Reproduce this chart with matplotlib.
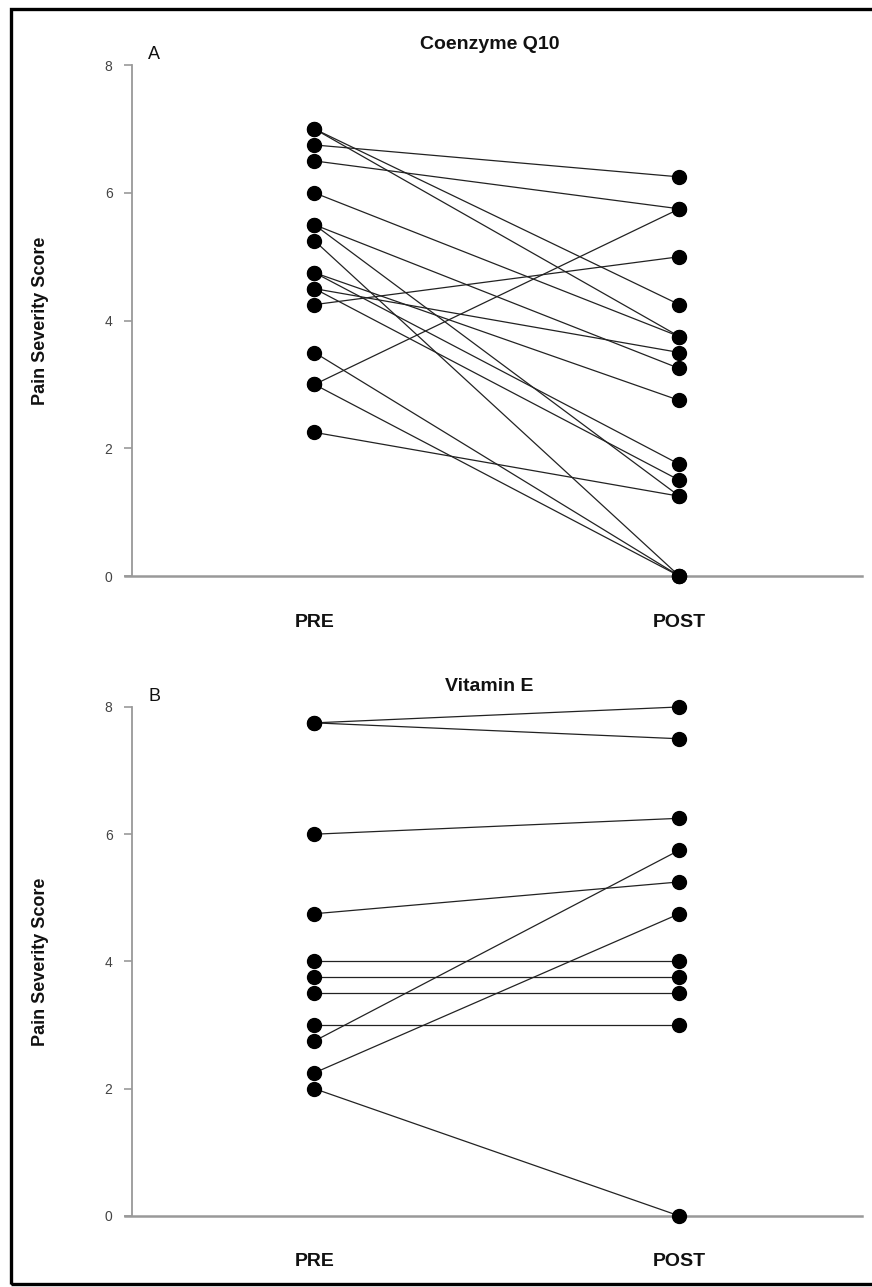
import matplotlib
matplotlib.use("Agg")
import matplotlib.pyplot as plt
from matplotlib.patches import Rectangle

plt.rcParams["font.family"] = ["Liberation Sans", "DejaVu Sans"]

# paired scores, one entry per subject (PRE -> POST)
coq10_pre = [7.0, 7.0, 6.75, 6.5, 6.0, 5.5, 5.5, 5.25, 4.75, 4.75, 4.5, 4.5,
             4.25, 3.5, 3.0, 3.0, 2.25]
coq10_post = [4.25, 3.75, 6.25, 5.75, 3.75, 3.25, 1.25, 0.0, 2.75, 1.75, 3.5, 1.5,
              5.0, 0.0, 5.75, 0.0, 1.25]

vite_pre = [7.75, 7.75, 6.0, 4.75, 4.0, 3.75, 3.5, 3.0, 2.75, 2.25, 2.0]
vite_post = [8.0, 7.5, 6.25, 5.25, 4.0, 3.75, 3.5, 3.0, 5.75, 4.75, 0.0]

groups = ["PRE", "POST"]
yticks = [0, 2, 4, 6, 8]
panels = [("A", "Coenzyme Q10", coq10_pre, coq10_post),
          ("B", "Vitamin E", vite_pre, vite_post)]

fig = plt.figure(figsize=(8.72, 12.87), dpi=100)
fig.patch.set_facecolor("white")

# outer frame (open on the right like the scanned figure)
fig.add_artist(Rectangle((11 / 872, 3 / 1287), 1.2, 1 - 12 / 1287,
                         transform=fig.transFigure, fill=False,
                         edgecolor="black", linewidth=2.4))

rects = [[0.1514, 0.5524, 0.837, 0.397], [0.1514, 0.0552, 0.837, 0.3955]]
for rect, (letter, title, pre, post) in zip(rects, panels):
    ax = fig.add_axes(rect)
    for a, b in zip(pre, post):
        ax.plot([1, 2], [a, b], "-", color="#222222", lw=0.9, zorder=2,
                clip_on=False)
    ax.plot([1] * len(pre), pre, "o", color="black", ms=10, zorder=3,
            clip_on=False)
    ax.plot([2] * len(post), post, "o", color="black", ms=10, zorder=3,
            clip_on=False)

    ax.set_xlim(0.5, 2.5)
    ax.set_ylim(0, 8)
    ax.set_yticks(yticks)
    ax.set_yticklabels([str(t) for t in yticks], fontsize=10, color="#444444")
    ax.set_xticks([1, 2])
    ax.set_xticklabels(groups, fontsize=14, fontweight="bold", color="#111111")
    ax.tick_params(axis="x", length=0, pad=27)
    ax.tick_params(axis="y", length=6, width=1.2, color="#999999", pad=8)
    for s in ("top", "right"):
        ax.spines[s].set_visible(False)
    ax.spines["left"].set_color("#999999")
    ax.spines["left"].set_linewidth(1.3)
    ax.spines["bottom"].set_color("#999999")
    ax.spines["bottom"].set_linewidth(1.8)
    ax.spines["bottom"].set_bounds(0.48, 2.5)

    ax.set_ylabel("Pain Severity Score", fontsize=13, fontweight="bold",
                  labelpad=40, color="#111111")
    ax.text(0.022, 1.02, letter, transform=ax.transAxes, fontsize=13,
            ha="left", va="center", color="#111111")
    ax.text(0.49, 1.04, title, transform=ax.transAxes, fontsize=14,
            fontweight="bold", ha="center", va="center", color="#111111")

fig.savefig("out.png", dpi=100, facecolor="white")
